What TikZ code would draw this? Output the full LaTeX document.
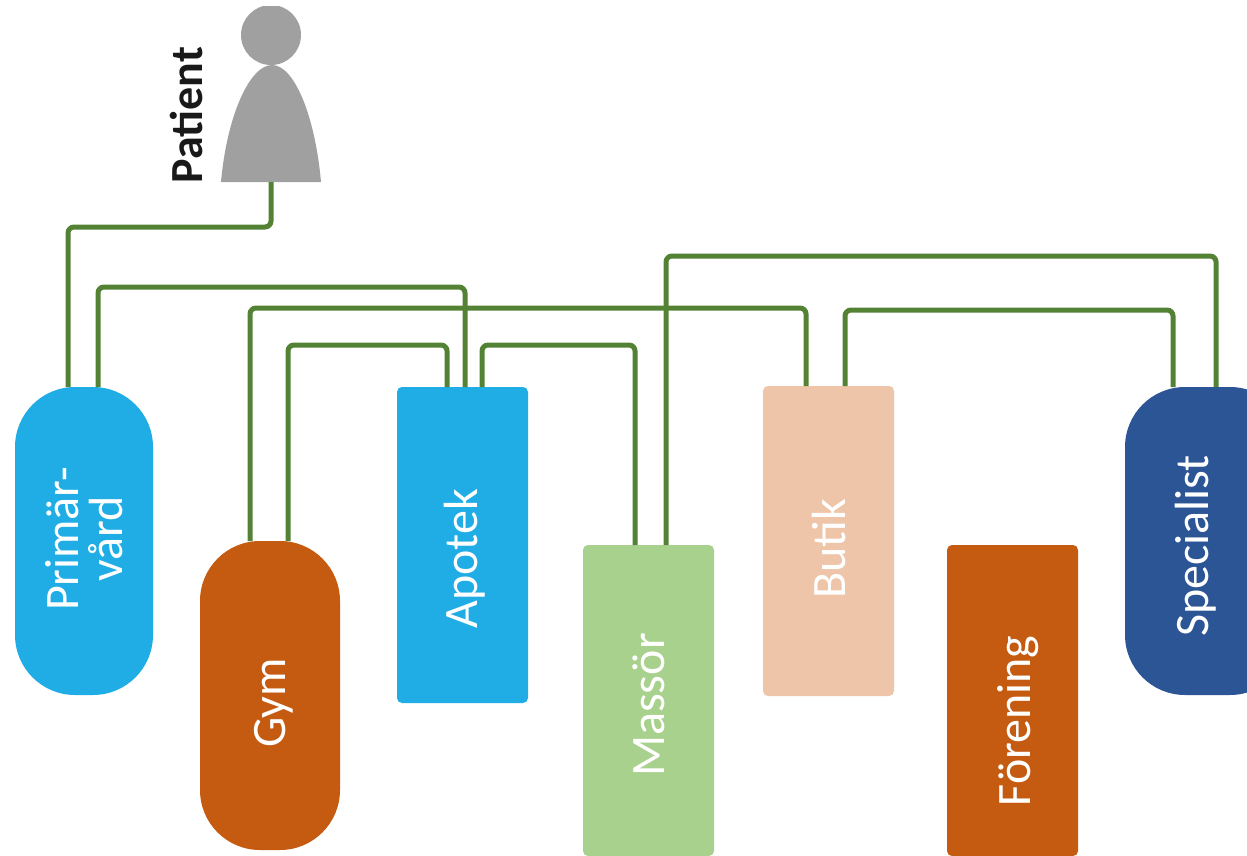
\documentclass[tikz,border=0pt]{standalone}
\usepackage{fontspec}
\setmainfont{Carlito}
\definecolor{cyanbox}{HTML}{20ADE6}
\definecolor{rustbox}{HTML}{C55A11}
\definecolor{greenbox}{HTML}{A9D18E}
\definecolor{peachbox}{HTML}{EEC5A8}
\definecolor{navybox}{HTML}{2C5596}
\definecolor{wire}{HTML}{548235}
\definecolor{figure}{HTML}{A0A0A0}
\tikzset{
    box/.style={rectangle, inner sep=0pt, rotate=90, text=white, font=\fontsize{48}{44}\selectfont, align=center},
    wire/.style={draw=wire, line width=5pt, rounded corners=6pt},
}
\begin{document}
\begin{tikzpicture}[x=1pt,y=-1pt]
        \useasboundingbox (0,0) rectangle (1247,856);
        % boxes
        \fill[cyanbox, rounded corners=60] (15,387) rectangle (153,695);
        \fill[rustbox, rounded corners=60] (200,541) rectangle (340,850);
        \fill[cyanbox, rounded corners=5] (397,387) rectangle (528,703);
        \fill[greenbox, rounded corners=5] (583,545) rectangle (714,856);
        \fill[peachbox, rounded corners=5] (763,386) rectangle (894,696);
        \fill[rustbox, rounded corners=5] (947,545) rectangle (1078,856);
        \fill[navybox, rounded corners=60] (1125,387) rectangle (1290,695);
        \node[box] (primar) at (84,539) {Primär-\\vård};
        \node[box] (gym) at (274,703) {Gym};
        \node[box] (apotek) at (465,559) {Apotek};
        \node[box] (massor) at (649,705) {Massör};
        \node[box] (butik) at (829,549) {Butik};
        \node[box] (forening) at (1018,721) {Förening};
        \node[box] (specialist) at (1196,546) {Specialist};
        % patient
        \begin{scope}
            \clip (230,7) rectangle (310,70);
            \fill[figure] (271,35) circle (30);
        \end{scope}
        \fill[figure] (221,182) .. controls (227,115) and (250,65) .. (272,65) .. controls (294,65) and (315,115) .. (321,182) -- cycle;
        \node[rotate=90, font=\bfseries\fontsize{46}{46}\selectfont, text=black!90] (patient) at (186,115) {Patient};
        \coordinate (feet) at (271,182);
        % wires
        \draw[wire] (feet) |- (68,227) -- (68,387);
        \draw[wire] (98,387) |- (465,287) -- (465,387);
        \draw[wire] (250,541) |- (806,308) -- (806,386);
        \draw[wire] (288,541) |- (447,345) -- (447,387);
        \draw[wire] (482,387) |- (635,345) -- (635,545);
        \draw[wire] (666,545) |- (1216,256) -- (1216,387);
        \draw[wire] (845,386) |- (1173,310) -- (1173,387);
    \end{tikzpicture}
\end{document}
